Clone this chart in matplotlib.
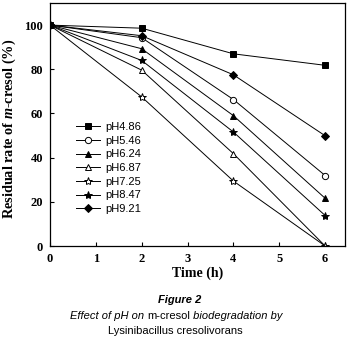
import matplotlib
matplotlib.use("Agg")
import matplotlib.pyplot as plt
from matplotlib.offsetbox import TextArea, HPacker, AnchoredOffsetbox

plt.rcParams["mathtext.fontset"] = "custom"
plt.rcParams["mathtext.it"] = "Liberation Serif:italic:bold"
plt.rcParams["mathtext.rm"] = "Liberation Serif:bold"

# residual rate of m-cresol (%)
time_h = [0, 2, 4, 6]
labels = ["pH4.86", "pH5.46", "pH6.24", "pH6.87", "pH7.25", "pH8.47", "pH9.21"]
ph486 = [100, 98.6, 87.0, 81.8]
ph546 = [100, 94.3, 66.3, 31.9]
ph624 = [100, 89.3, 59.0, 21.6]
ph687 = [100, 79.6, 41.8, 0.0]
ph725 = [100, 67.5, 29.4, 0.0]
ph847 = [100, 84.0, 51.6, 13.8]
ph921 = [100, 95.2, 77.5, 49.9]
series = [ph486, ph546, ph624, ph687, ph725, ph847, ph921]

markers = ["s", "o", "^", "^", "*", "*", "D"]
filled = [True, False, True, False, False, True, True]
msizes = [4.5, 4.5, 5, 5, 6, 6, 4]

fig = plt.figure(figsize=(3.53, 3.39), dpi=100)
ax = fig.add_axes([0.1416, 0.2743, 0.8354, 0.7168])

for y, lab, m, f, ms in zip(series, labels, markers, filled, msizes):
    ax.plot(time_h, y, color="black", lw=0.7, marker=m, ms=ms,
            mfc="black" if f else "white", mec="black", mew=0.7, label=lab)

ax.set_xlim(0, 6.43)
ax.set_ylim(0, 110)
ax.set_xticks(range(0, 7))
ax.set_yticks(range(0, 101, 20))
ax.tick_params(direction="in", length=3, width=0.8, pad=5)
for t in ax.get_xticklabels() + ax.get_yticklabels():
    t.set_fontfamily("Liberation Serif")
    t.set_fontweight("bold")
    t.set_fontsize(9)
for s in ax.spines.values():
    s.set_linewidth(0.9)

ax.set_xlabel("Time (h)", fontfamily="Liberation Serif", fontweight="bold", fontsize=10)
ax.xaxis.set_label_coords(0.5, -0.083)
ax.set_ylabel(r"Residual rate of $m$-cresol (%)", fontfamily="Liberation Serif",
              fontweight="bold", fontsize=10.3)
ax.yaxis.set_label_coords(-0.108, 0.48)

ax.legend(loc="upper left", bbox_to_anchor=(0.088, 0.51), frameon=False,
          prop={"family": "Liberation Sans", "size": 8}, handlelength=2.2,
          handletextpad=0.4, labelspacing=0.33, borderpad=0, borderaxespad=0)

fig.text(0.51, 0.115, "Figure 2", ha="center", va="center",
         fontfamily="Liberation Sans", fontsize=8, fontweight="bold", fontstyle="italic")

parts = [("Effect of pH on ", "italic"), ("m-cresol", "normal"), (" biodegradation by", "italic")]
boxes = [TextArea(t, textprops=dict(fontfamily="Liberation Sans", fontsize=8, fontstyle=st))
         for t, st in parts]
line2 = HPacker(children=boxes, pad=0, sep=0, align="baseline")
ab = AnchoredOffsetbox(loc="center", child=line2, bbox_to_anchor=(0.5, 0.069),
                       bbox_transform=fig.transFigure, frameon=False, pad=0, borderpad=0)
fig.add_artist(ab)

fig.text(0.497, 0.025, "Lysinibacillus cresolivorans", ha="center", va="center",
         fontfamily="Liberation Sans", fontsize=8)

fig.savefig("out.png", dpi=100)
